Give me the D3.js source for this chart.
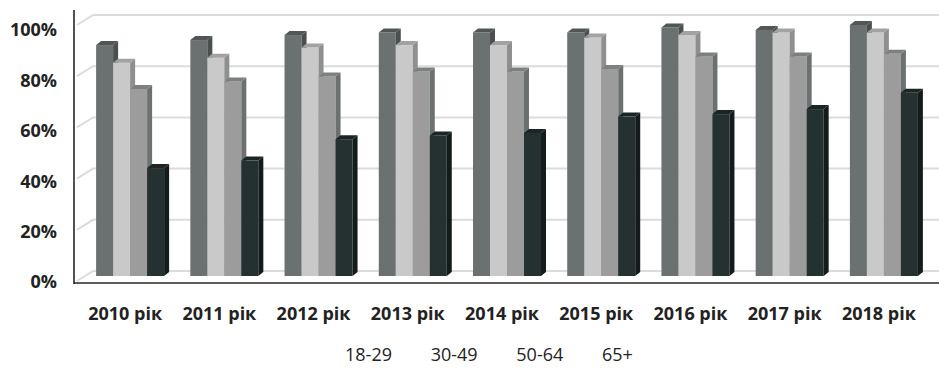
<!DOCTYPE html>
<html>
<head>
<meta charset="utf-8">
<script src="https://cdn.jsdelivr.net/npm/d3@7"></script>
<style>
  html, body { margin: 0; padding: 0; background: #fff; }
  svg { display: block; }
</style>
</head>
<body>
<svg id="chart" width="939" height="368"></svg>
<script>
// Share of each age group, by year (%)
const years = ["2010 рік", "2011 рік", "2012 рік", "2013 рік", "2014 рік", "2015 рік", "2016 рік", "2017 рік", "2018 рік"];
const groups = ["18-29", "30-49", "50-64", "65+"];
const age18_29 = [92, 94, 96, 97, 97, 97, 99, 98, 100];
const age30_49 = [85, 87, 91, 92, 92, 95, 96, 97, 97];
const age50_64 = [74.5, 77.5, 79.5, 81.5, 81.5, 82.5, 87.5, 87.5, 88.5];
const age65plus = [43, 46, 54.5, 56, 57, 63.5, 64.5, 66.5, 73];
const yTicks = [0, 20, 40, 60, 80, 100];

const seriesValues = [age18_29, age30_49, age50_64, age65plus];

// front / top / side shades for each series
const shades = [
  { front: "#6b7070", top: "#515656", side: "#4a4f4f" },
  { front: "#c9c9c9", top: "#a2a2a2", side: "#8e9090" },
  { front: "#9c9c9c", top: "#7c8080", side: "#6c7070" },
  { front: "#253030", top: "#1c2525", side: "#131b1b" }
];

const svg = d3.select("#chart");
const W = 939, H = 368;

// depth of the oblique projection
const depthX = 16, depthY = -10;   // wall depth
const barDX = 5, barDY = -4;       // bar depth

const axisX = 74, axisBottom = 283;

const x = d3.scaleBand().domain(years).range([83, 931]).paddingInner(0).paddingOuter(0);
const barW = 17;
const sub = d3.scaleBand().domain(groups).range([0, barW * groups.length]);

const yBar = d3.scaleLinear().domain([0, 100]).range([276, 25]);
const yWall = d3.scaleLinear().domain([0, 100]).range([271, 15]);
const yLabel = d3.scaleLinear().domain([0, 100]).range([282, 30]);

// back wall gridlines with the slanted side-wall part
const grid = svg.append("g");
yTicks.forEach(t => {
  const yb = yWall(t);
  grid.append("path")
    .attr("d", `M${axisX + 3},${yb - depthY} L${axisX + 3 + depthX},${yb} L${W},${yb}`)
    .attr("fill", "none")
    .attr("stroke", "#dcdcdc")
    .attr("stroke-width", 2);
});

// bars, drawn left to right so right-hand bars cover side faces
const bars = svg.append("g");
years.forEach((yr, ci) => {
  const gx = x(yr) + (x.bandwidth() - barW * groups.length) / 2;
  groups.forEach((g, si) => {
    const v = seriesValues[si][ci];
    const x0 = gx + sub(g);
    const x1 = x0 + barW;
    const yt = yBar(v), yb = yBar(0);
    const s = shades[si];
    bars.append("rect")
      .attr("x", x0).attr("y", yt)
      .attr("width", barW).attr("height", yb - yt)
      .attr("fill", s.front);
    bars.append("path")
      .attr("d", `M${x1},${yt} L${x1 + barDX},${yt + barDY} L${x1 + barDX},${yb + barDY} L${x1},${yb} Z`)
      .attr("fill", s.side);
    bars.append("path")
      .attr("d", `M${x0},${yt} L${x0 + barDX},${yt + barDY} L${x1 + barDX},${yt + barDY} L${x1},${yt} Z`)
      .attr("fill", s.top);
  });
});

// axes lines
svg.append("line")
  .attr("x1", axisX).attr("x2", axisX)
  .attr("y1", 10).attr("y2", axisBottom + 1)
  .attr("stroke", "#262626").attr("stroke-width", 1.6);
svg.append("line")
  .attr("x1", axisX).attr("x2", W)
  .attr("y1", axisBottom).attr("y2", axisBottom)
  .attr("stroke", "#262626").attr("stroke-width", 1.6);

// y tick labels
svg.append("g").selectAll("text")
  .data(yTicks)
  .join("text")
  .attr("x", 57)
  .attr("y", d => yLabel(d))
  .attr("dy", "0.35em")
  .attr("text-anchor", "end")
  .attr("font-family", "'Open Sans', sans-serif")
  .attr("font-weight", "bold")
  .attr("font-size", 18)
  .attr("fill", "#222")
  .text(d => d + "%");

// category labels
svg.append("g").selectAll("text")
  .data(years)
  .join("text")
  .attr("x", d => x(d) + x.bandwidth() / 2 - 5)
  .attr("y", 320)
  .attr("text-anchor", "middle")
  .attr("font-family", "'Open Sans', sans-serif")
  .attr("font-weight", "bold")
  .attr("font-size", 18)
  .attr("fill", "#222")
  .text(d => d);

// legend
const legX = d3.scalePoint().domain(groups).range([345, 602]);
svg.append("g").selectAll("text")
  .data(groups)
  .join("text")
  .attr("x", d => legX(d))
  .attr("y", 361)
  .attr("font-family", "'Open Sans', sans-serif")
  .attr("font-size", 18)
  .attr("fill", "#222")
  .text(d => d);
</script>
</body>
</html>
